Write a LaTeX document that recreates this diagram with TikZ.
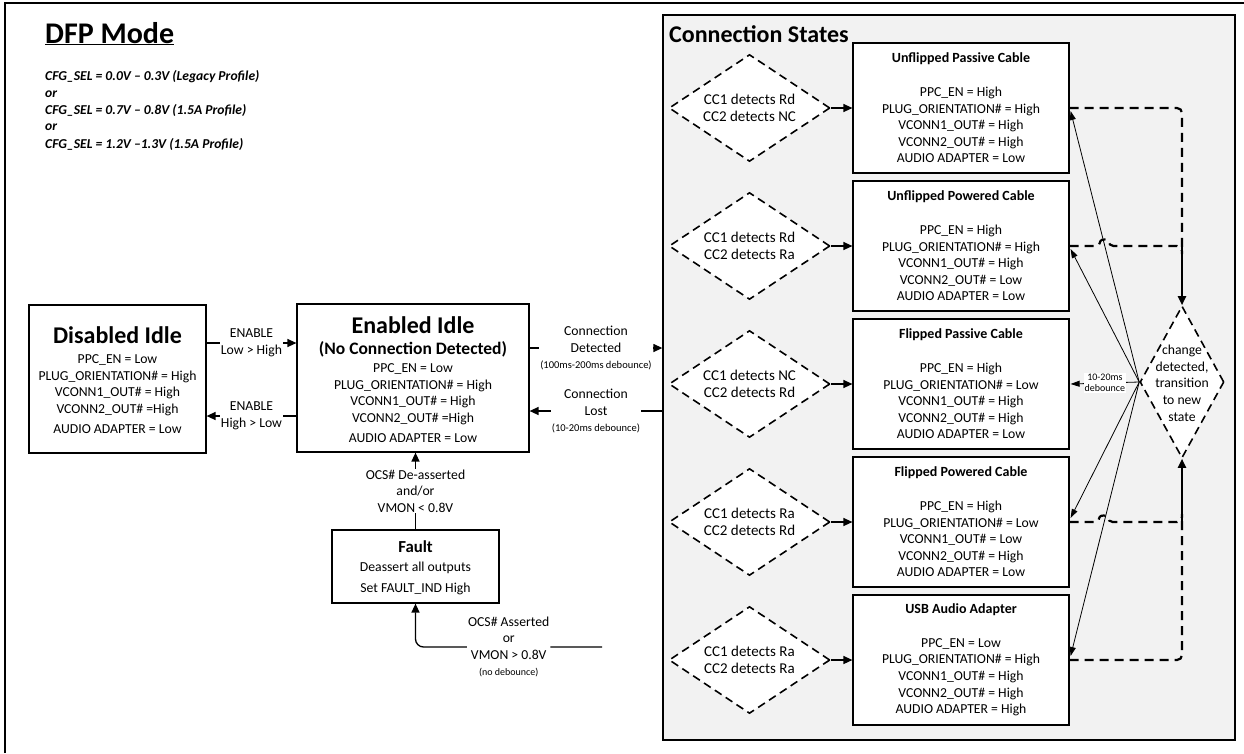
\documentclass[tikz,border=0pt]{standalone}
\usepackage{fontspec}
\setmainfont{Carlito}
\usetikzlibrary{shapes.geometric,arrows.meta,calc}
\definecolor{panelgray}{RGB}{242,242,242}
\newcommand\stitlefont{\fontsize{14}{16}\selectfont\bfseries}
\begin{document}
\begin{tikzpicture}[x=1pt,y=-1pt,
  box/.style={draw, line width=1.2pt, fill=white, inner sep=0pt},
  sbox/.style={box, minimum width=216pt, minimum height=130pt, align=center, font=\fontsize{13.7}{16.6}\selectfont},
  body/.style={inner sep=0pt, align=center, font=\fontsize{13.7}{16.7}\selectfont},
  cdiam/.style={diamond, draw, dash pattern=on 8pt off 5pt, line width=1.6pt, fill=white, aspect=1.5, minimum width=161pt, minimum height=107pt, inner sep=0pt, align=center, font=\fontsize{15}{17}\selectfont},
  arr/.style={line width=1.3pt, -{Triangle[length=9pt,width=8pt]}},
  lbl/.style={fill=white, inner sep=1pt, align=center, font=\fontsize{13.7}{16.5}\selectfont},
  dconn/.style={line width=2.2pt, dash pattern=on 9pt off 6pt},
  sconn/.style={line width=2pt, -{Triangle[length=9pt,width=8pt]}},
  thinarr/.style={line width=0.8pt, -{Triangle[length=9pt,width=6pt]}},
  cfg/.style={anchor=west, inner sep=0pt, font=\fontsize{13.6}{16}\selectfont\bfseries\itshape},
  ttl/.style={inner sep=0pt, font=\fontsize{24}{28}\selectfont\bfseries}
]
\useasboundingbox (0,0) rectangle (1244,753);
\draw[line width=2.2pt] (5,753) -- (5,3) -- (1244,3);

% heading
\node[anchor=base west, inner sep=0pt, font=\fontsize{30}{33}\selectfont\bfseries] (dfp) at (45,43) {\underline{DFP Mode}};
\node[cfg] (cfg1) at (45,77) {CFG\_SEL = 0.0V – 0.3V (Legacy Profile)};
\node[cfg] (cfg2) at (45,94) {or};
\node[cfg] (cfg3) at (45,110) {CFG\_SEL = 0.7V – 0.8V (1.5A Profile)};
\node[cfg] (cfg4) at (45,127) {or};
\node[cfg] (cfg5) at (45,144) {CFG\_SEL = 1.2V –1.3V (1.5A Profile)};

% connection states panel
\node[draw, line width=1.3pt, fill=panelgray, minimum width=572pt, minimum height=725pt, inner sep=0pt] (cs) at (949,377.5) {};
\node[anchor=base west, inner sep=0pt, font=\fontsize{24}{26}\selectfont\bfseries] (cstitle) at (669,42) {Connection States};

\node[cdiam] (d1) at (749.5,108) {CC1 detects Rd\\CC2 detects NC};
\node[cdiam] (d2) at (749.5,246) {CC1 detects Rd\\CC2 detects Ra};
\node[cdiam] (d3) at (749.5,384) {CC1 detects NC\\CC2 detects Rd};
\node[cdiam] (d4) at (749.5,522) {CC1 detects Ra\\CC2 detects Rd};
\node[cdiam] (d5) at (749.5,660) {CC1 detects Ra\\CC2 detects Ra};

\node[sbox] (b1) at (961,108) {{\stitlefont Unflipped Passive Cable}\\[17pt]PPC\_EN = High\\PLUG\_ORIENTATION\# = High\\VCONN1\_OUT\# = High\\VCONN2\_OUT\# = High\\AUDIO ADAPTER = Low};
\node[sbox] (b2) at (961,246) {{\stitlefont Unflipped Powered Cable}\\[17pt]PPC\_EN = High\\PLUG\_ORIENTATION\# = High\\VCONN1\_OUT\# = High\\VCONN2\_OUT\# = Low\\AUDIO ADAPTER = Low};
\node[sbox] (b3) at (961,384) {{\stitlefont Flipped Passive Cable}\\[17pt]PPC\_EN = High\\PLUG\_ORIENTATION\# = Low\\VCONN1\_OUT\# = High\\VCONN2\_OUT\# = High\\AUDIO ADAPTER = Low};
\node[sbox] (b4) at (961,522) {{\stitlefont Flipped Powered Cable}\\[17pt]PPC\_EN = High\\PLUG\_ORIENTATION\# = Low\\VCONN1\_OUT\# = Low\\VCONN2\_OUT\# = High\\AUDIO ADAPTER = Low};
\node[sbox] (b5) at (961,660) {{\stitlefont USB Audio Adapter}\\[17pt]PPC\_EN = Low\\PLUG\_ORIENTATION\# = High\\VCONN1\_OUT\# = High\\VCONN2\_OUT\# = High\\AUDIO ADAPTER = High};

\foreach \i in {1,...,5} \draw[arr] (d\i.east) -- (b\i.west);

% change detected diamond
\node[diamond, draw, dash pattern=on 8pt off 5pt, line width=1.6pt, fill=white, aspect=0.55, minimum width=84pt, minimum height=152pt, inner sep=0pt] (chg) at (1182,382) {};
\node[body] (chgt) at (1182,383) {change\\detected,\\transition\\to new\\state};

% dashed feedback lines
\draw[dconn, rounded corners=5pt] (b1.east) -- (b1.east -| chg.north) -- ($(b2.east -| chg.north)+(0,1)$);
\draw[dconn, rounded corners=5pt] (b2.east) -- (1100.5,246) .. controls (1100.5,239) and (1108.5,239) .. (1108.5,246) -- (b2.east -| chg.north) -- ($(b2.east -| chg.north)+(0,8)$);
\draw[sconn] (b2.east -| chg.north) -- (chg.north);
\draw[dconn, rounded corners=5pt] (b5.east) -- (b5.east -| chg.south) -- ($(b4.east -| chg.south)+(0,-1)$);
\draw[dconn, rounded corners=5pt] (b4.east) -- (1099.7,522) .. controls (1099.7,515) and (1107.7,515) .. (1107.7,522) -- (b4.east -| chg.south) -- ($(b4.east -| chg.south)+(0,-8)$);
\draw[sconn] (b4.east -| chg.south) -- (chg.south);

% fan of transitions
\draw[thinarr] (chg.west) -- ($(b1.east)+(1,3)$);
\draw[thinarr] (chg.west) -- ($(b2.east)+(1,3)$);
\draw[thinarr] (chg.west) -- node[fill=white, inner sep=1pt, align=center, font=\fontsize{10}{11}\selectfont] (deb) {10-20ms\\debounce} ($(b3.east)+(1,0)$);
\draw[thinarr] (chg.west) -- ($(b4.east)+(1,-4)$);
\draw[thinarr] (chg.west) -- ($(b5.east)+(1,-4)$);

% left states
\node[box, minimum width=177pt, minimum height=148pt] (dis) at (117.5,379) {};
\node[ttl] (dist) at (117.5,335) {Disabled Idle};
\node[body] (disb) at (117.5,394) {PPC\_EN = Low\\PLUG\_ORIENTATION\# = High\\VCONN1\_OUT\# = High\\VCONN2\_OUT\# =High\\[3.3pt]AUDIO ADAPTER = Low};

\node[box, minimum width=232pt, minimum height=148pt] (en) at (413,378) {};
\node[ttl] (ent) at (413,325) {Enabled Idle};
\node[inner sep=0pt, font=\fontsize{17.5}{20}\selectfont\bfseries] (ens) at (413,349) {(No Connection Detected)};
\node[body] (enb) at (413,403) {PPC\_EN = Low\\PLUG\_ORIENTATION\# = High\\VCONN1\_OUT\# = High\\VCONN2\_OUT\# =High\\[3.3pt]AUDIO ADAPTER = Low};

\node[box, minimum width=167pt, minimum height=73pt] (fault) at (415.5,566.5) {};
\node[inner sep=0pt, font=\fontsize{16.8}{20}\selectfont\bfseries] (ft) at (415.5,547) {Fault};
\node[inner sep=0pt, align=center, font=\fontsize{13.7}{21}\selectfont] (fb) at (415.5,578) {Deassert all outputs\\Set FAULT\_IND High};

% transitions
\coordinate (yA) at (0,343);
\coordinate (yB) at (0,416);
\coordinate (yC) at (0,348);
\coordinate (yD) at (0,411);
\coordinate (ocsend) at (602,647);
\draw[arr] (dis.east |- yA) -- node[lbl] (l1) {ENABLE\\Low > High} (en.west |- yA);
\draw[arr] (en.west |- yB) -- node[lbl] (l2) {ENABLE\\High > Low} (dis.east |- yB);
\draw[arr] (en.east |- yC) -- node[lbl] (l3) {Connection\\Detected\\{\fontsize{10.5}{12}\selectfont (100ms-200ms debounce)}} (cs.west |- yC);
\draw[arr] (cs.west |- yD) -- node[lbl] (l4) {Connection\\Lost\\{\fontsize{10.5}{12}\selectfont (10-20ms debounce)}} (en.east |- yD);
\draw[arr] (fault.north) -- node[lbl] (l5) {OCS\# De-asserted\\and/or\\VMON < 0.8V} (fault.north |- en.south);
\draw[arr, rounded corners=8pt] (ocsend) -- node[lbl] (l6) {OCS\# Asserted\\or\\VMON > 0.8V\\{\fontsize{10}{12}\selectfont (no debounce)}} (fault.south |- ocsend) -- (fault.south);
\end{tikzpicture}
\end{document}
